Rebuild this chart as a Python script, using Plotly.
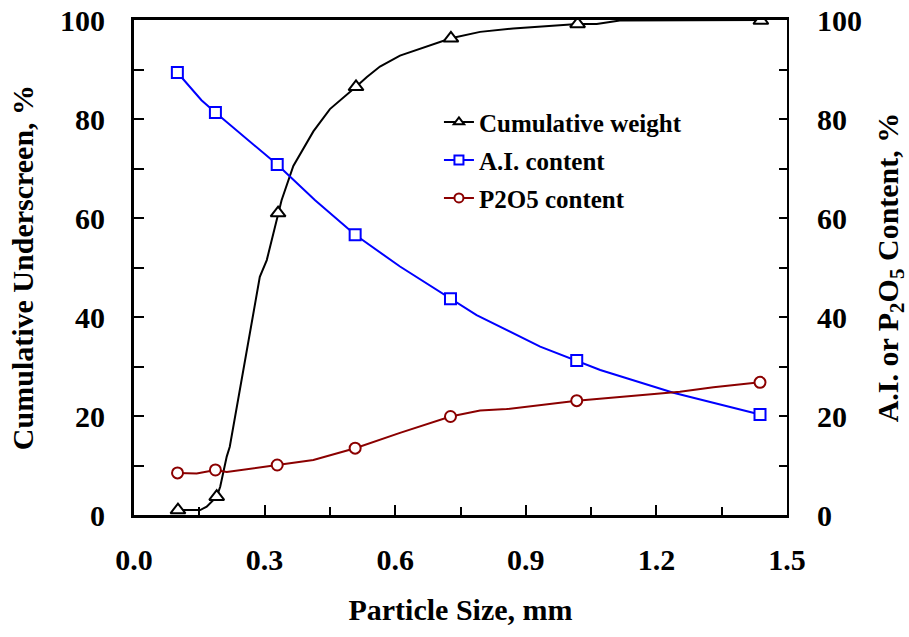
import plotly.graph_objects as go

# ---- data ----
# Cumulative weight (left axis)
cw_mark_x = [0.101, 0.19, 0.331, 0.51, 0.728, 1.019, 1.44]
cw_mark_y = [1.0, 3.7, 61.0, 86.5, 96.3, 99.2, 99.9]
cw_path_x = [0.101, 0.152, 0.167, 0.19, 0.198, 0.213, 0.22, 0.244, 0.289, 0.305, 0.331,
             0.339, 0.366, 0.412, 0.45, 0.496, 0.51, 0.535, 0.565, 0.611, 0.728,
             0.795, 0.871, 1.019, 1.063, 1.116, 1.44]
cw_path_y = [1.0, 1.0, 1.7, 3.7, 5.7, 11.8, 13.8, 25.9, 48.1, 51.5, 61.0,
             63.6, 70.5, 77.5, 82.0, 85.4, 86.5, 88.5, 90.6, 92.8, 96.3,
             97.6, 98.3, 99.2, 99.2, 99.9, 100.0]

# A.I. content (right axis)
ai_mark_x = [0.0996, 0.187, 0.329, 0.508, 0.727, 1.017, 1.438]
ai_mark_y = [89.4, 81.3, 70.8, 56.6, 43.7, 31.2, 20.3]
ai_path_x = [0.0996, 0.155, 0.187, 0.329, 0.416, 0.508, 0.611, 0.727, 0.787, 0.933,
             1.017, 1.071, 1.239, 1.438]
ai_path_y = [89.4, 83.8, 81.3, 70.8, 63.6, 56.6, 50.2, 43.7, 40.4, 34.0,
             31.2, 29.3, 24.7, 20.3]

# P2O5 content (right axis)
p_mark_x = [0.1, 0.187, 0.329, 0.508, 0.727, 1.017, 1.438]
p_mark_y = [8.5, 9.1, 10.1, 13.5, 19.9, 23.1, 26.8]
p_path_x = [0.1, 0.144, 0.187, 0.213, 0.329, 0.412, 0.508, 0.611, 0.727, 0.795,
            0.856, 1.017, 1.254, 1.331, 1.438]
p_path_y = [8.5, 8.4, 9.1, 8.7, 10.1, 11.1, 13.5, 16.6, 19.9, 21.1,
            21.4, 23.1, 24.9, 25.8, 26.8]

series_names = ["Cumulative weight", "A.I. content", "P2O5 content"]
x_ticks = [0.0, 0.3, 0.6, 0.9, 1.2, 1.5]
y_ticks = [0, 20, 40, 60, 80, 100]

FONT = "Liberation Serif"
BLACK = "#000000"
BLUE = "#0000FF"
RED = "#8B0000"

fig = go.Figure()

specs = [
    (series_names[0], cw_path_x, cw_path_y, cw_mark_x, cw_mark_y, BLACK, "triangle-up", 13, "y"),
    (series_names[1], ai_path_x, ai_path_y, ai_mark_x, ai_mark_y, BLUE, "square", 11, "y2"),
    (series_names[2], p_path_x, p_path_y, p_mark_x, p_mark_y, RED, "circle", 11, "y2"),
]

for i, (name, px, py, mx, my, col, sym, sz, ax) in enumerate(specs):
    fig.add_trace(go.Scatter(x=px, y=py, mode="lines", yaxis=ax,
                             line=dict(color=col, width=2),
                             showlegend=False, hoverinfo="skip", legendgroup=f"g{i}"))
    fig.add_trace(go.Scatter(x=mx, y=my, mode="markers", yaxis=ax, name=name,
                             marker=dict(symbol=sym, size=sz, color="white",
                                         line=dict(color=col, width=2)),
                             showlegend=False, legendgroup=f"g{i}"))
    fig.add_trace(go.Scatter(x=[None], y=[None], mode="lines+markers", yaxis=ax, name=name,
                             line=dict(color=col, width=2),
                             marker=dict(symbol=sym, size=9, color="white",
                                         line=dict(color=col, width=2)),
                             showlegend=True, legendgroup=f"g{i}"))

tickfont = dict(family=FONT, size=30, color="black", weight="bold")
titlefont = dict(family=FONT, size=30, color="black", weight="bold")

fig.update_layout(
    width=909, height=637,
    margin=dict(l=134, r=122, t=20, b=122),
    paper_bgcolor="white", plot_bgcolor="white",
    font=dict(family=FONT, color="black"),
    showlegend=True,
    legend=dict(x=0.467, y=0.84, xanchor="left", yanchor="top",
                bgcolor="rgba(0,0,0,0)", borderwidth=0,
                font=dict(family=FONT, size=25, color="black", weight="bold"),
                tracegroupgap=2.5, itemsizing="trace"),
    xaxis=dict(range=[0, 1.5], tickvals=x_ticks, tickformat=".1f",
               ticks="inside", ticklen=10, tickwidth=2, tickcolor="black",
               minor=dict(dtick=0.15, ticks="inside", ticklen=8, tickwidth=2, tickcolor="black"),
               showline=True, linecolor="black", linewidth=3, mirror=True,
               showgrid=False, zeroline=False,
               tickfont=tickfont, ticklabelstandoff=16,
               title=dict(text="Particle Size, mm", font=titlefont, standoff=24),
               automargin=False),
    yaxis=dict(range=[0, 100], tickvals=y_ticks,
               ticks="inside", ticklen=10, tickwidth=2, tickcolor="black",
               minor=dict(dtick=10, ticks="inside", ticklen=10, tickwidth=2, tickcolor="black"),
               showline=True, linecolor="black", linewidth=3,
               showgrid=False, zeroline=False,
               tickfont=tickfont, ticklabelstandoff=20,
               title=dict(text="Cumulative Underscreen, %", font=titlefont, standoff=18),
               automargin=False),
    yaxis2=dict(range=[0, 100], tickvals=y_ticks, overlaying="y", side="right",
                ticks="inside", ticklen=8, tickwidth=2, tickcolor="black",
                minor=dict(dtick=10, ticks="inside", ticklen=8, tickwidth=2, tickcolor="black"),
                showline=True, linecolor="black", linewidth=2,
                showgrid=False, zeroline=False,
                tickfont=tickfont, ticklabelstandoff=22,
                title=dict(text="A.I. or P<sub>2</sub>O<sub>5</sub> Content, %", font=titlefont, standoff=20),
                automargin=False),
)

fig.write_html("out.html")
